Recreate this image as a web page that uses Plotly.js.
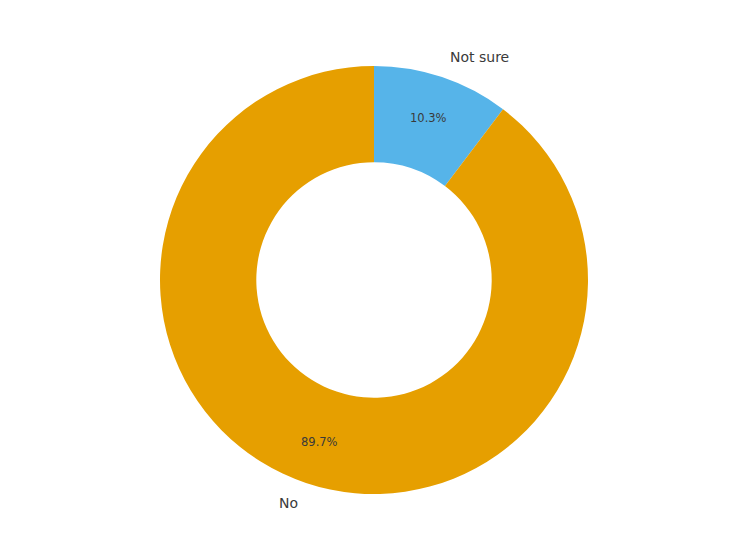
<!DOCTYPE html>
<html>
<head>
<meta charset="utf-8">
<script src="https://cdn.plot.ly/plotly-3.0.1.min.js"></script>
<style>html,body{margin:0;padding:0;background:#fff;}#chart{width:748px;height:557px;}</style>
</head>
<body>
<div id="chart"></div>
<script>
var labels = ["No", "Not sure"];
var values = [89.7, 10.3];
var colors = ["#E69F00", "#56B4E9"];

var W = 748, H = 557;
var margin = {l: 160, r: 160, t: 66, b: 63, pad: 0};
var plotW = W - margin.l - margin.r, plotH = H - margin.t - margin.b;
var R = Math.min(plotW, plotH) / 2;

var total = values.reduce(function(a, b){ return a + b; }, 0);
var annotations = [];
var start = 90;
for (var i = 0; i < values.length; i++) {
  var span = values[i] / total * 360;
  var mid = (start + span / 2) * Math.PI / 180;
  var cx = Math.cos(mid), cy = Math.sin(mid);
  annotations.push({
    xref: "paper", yref: "paper",
    x: 0.5 + 1.1 * cx * R / plotW, y: 0.5 + 1.1 * cy * R / plotH,
    text: labels[i], showarrow: false, borderpad: 0,
    xanchor: cx > 0 ? "left" : "right", yanchor: "middle",
    font: {family: "DejaVu Sans", size: 14, color: "#3a3a3a"}
  });
  annotations.push({
    xref: "paper", yref: "paper",
    x: 0.5 + 0.8 * cx * R / plotW, y: 0.5 + 0.8 * cy * R / plotH,
    text: (values[i] / total * 100).toFixed(1) + "%", showarrow: false, borderpad: 0,
    xanchor: "center", yanchor: "middle",
    font: {family: "DejaVu Sans", size: 11.5, color: "#3a3a3a"}
  });
  start += span;
}

var trace = {
  type: "pie",
  labels: labels.slice().reverse(),
  values: values.slice().reverse(),
  hole: 0.55,
  sort: false,
  direction: "clockwise",
  rotation: 0,
  textinfo: "none",
  marker: {colors: colors.slice().reverse(), line: {width: 0}},
  showlegend: false,
  hoverinfo: "label+percent"
};

var layout = {
  width: W, height: H,
  margin: margin,
  paper_bgcolor: "#ffffff",
  plot_bgcolor: "#ffffff",
  showlegend: false,
  annotations: annotations,
  font: {family: "DejaVu Sans"}
};

Plotly.newPlot("chart", [trace], layout, {displayModeBar: false, staticPlot: true});
</script>
</body>
</html>
